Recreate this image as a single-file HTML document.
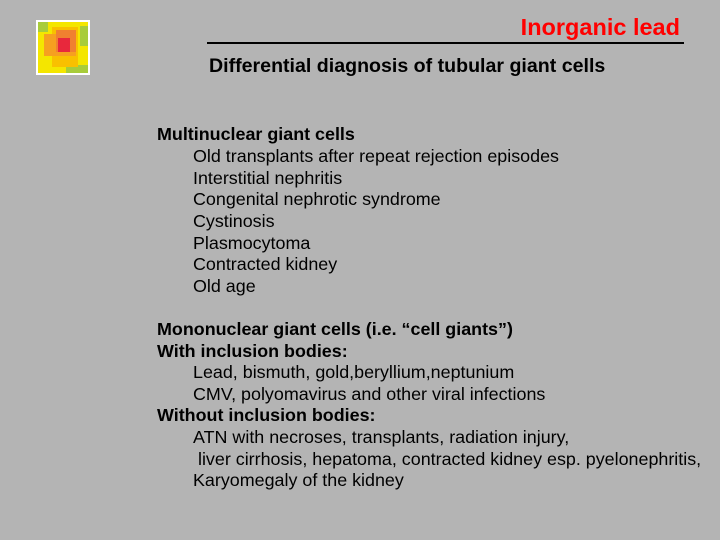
<!DOCTYPE html>
<html><head><meta charset="utf-8"><style>
body{margin:0;width:720px;height:540px;background:#b4b4b4;position:relative;overflow:hidden;font-family:"Liberation Sans",Arial,sans-serif;color:#000}
.t{position:absolute;white-space:nowrap;font-size:17.9px;line-height:20px}
.b{font-weight:bold}
</style></head><body>
<div style="position:absolute;left:36px;top:20px;width:54px;height:55px;background:#fff"></div>
<div style="position:absolute;left:38px;top:22px;width:50px;height:51px;background:#f4e600"></div>
<div style="position:absolute;left:38px;top:22px;width:10px;height:10px;background:#a8cc3a"></div>
<div style="position:absolute;left:80px;top:26px;width:8px;height:20px;background:#a8cc3a"></div>
<div style="position:absolute;left:66px;top:65px;width:22px;height:8px;background:#a8cc3a"></div>
<div style="position:absolute;left:52px;top:27px;width:26px;height:40px;background:#f9c000"></div>
<div style="position:absolute;left:44px;top:34px;width:32px;height:22px;background:#f6a020"></div>
<div style="position:absolute;left:56px;top:30px;width:20px;height:22px;background:#f08030"></div>
<div style="position:absolute;left:58px;top:38px;width:12px;height:14px;background:#e8283c"></div>
<div class="t b" style="right:40px;top:14px;font-size:23.5px;line-height:26px;color:#ff0000">Inorganic lead</div>
<div style="position:absolute;left:207px;top:42px;width:477px;height:2px;background:#000"></div>
<div class="t b" style="left:209px;top:55px;font-size:19.6px;line-height:22px">Differential diagnosis of tubular giant cells</div>
<div class="t b" style="left:157px;top:124px">Multinuclear giant cells</div>
<div class="t" style="left:193px;top:146px">Old transplants after repeat rejection episodes</div>
<div class="t" style="left:193px;top:168px">Interstitial nephritis</div>
<div class="t" style="left:193px;top:189px">Congenital nephrotic syndrome</div>
<div class="t" style="left:193px;top:211px">Cystinosis</div>
<div class="t" style="left:193px;top:233px">Plasmocytoma</div>
<div class="t" style="left:193px;top:254px">Contracted kidney</div>
<div class="t" style="left:193px;top:276px">Old age</div>
<div class="t b" style="left:157px;top:319px">Mononuclear giant cells (i.e. “cell giants”)</div>
<div class="t b" style="left:157px;top:341px">With inclusion bodies:</div>
<div class="t" style="left:193px;top:362px">Lead, bismuth, gold,beryllium,neptunium</div>
<div class="t" style="left:193px;top:384px">CMV, polyomavirus and other viral infections</div>
<div class="t b" style="left:157px;top:405px">Without inclusion bodies:</div>
<div class="t" style="left:193px;top:427px">ATN with necroses, transplants, radiation injury,</div>
<div class="t" style="left:193px;top:449px">&nbsp;liver cirrhosis, hepatoma, contracted kidney esp. pyelonephritis,</div>
<div class="t" style="left:193px;top:470px">Karyomegaly of the kidney</div>
</body></html>
